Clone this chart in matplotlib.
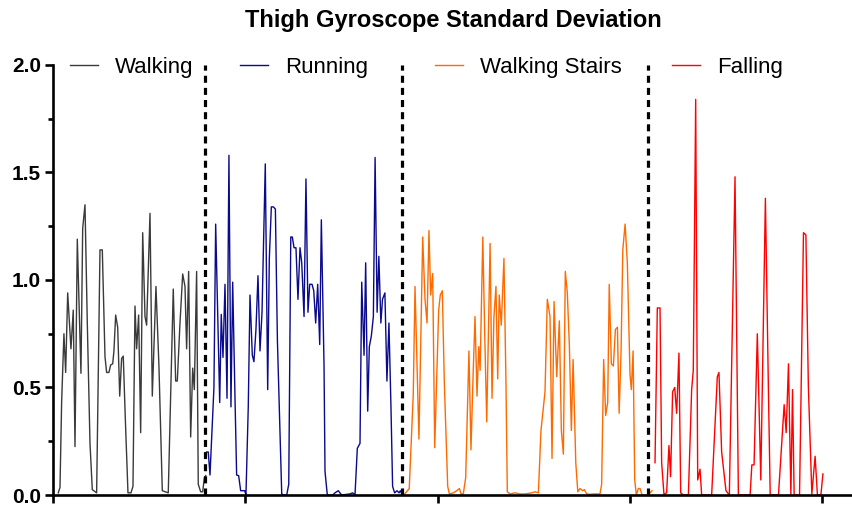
import matplotlib.pyplot as plt
from matplotlib.ticker import MultipleLocator

plt.rcParams['font.family'] = ['Liberation Sans', 'DejaVu Sans']

# values (x = sample index, y = std)
walking_x = [5.5, 7.3, 9, 11.4, 13.2, 15.3, 18.7, 21.1, 22.9, 25.3, 29.1, 30.9, 33.3, 35.7, 38.5, 40.9,
             45.4, 48.9, 51.3, 54.1, 55.8, 58.2, 60, 62.1, 63.4, 65.2, 67.3, 69.4, 71.4, 73.1, 75.2, 78,
             81.1, 83.2, 85.3, 87, 89.1, 91.2, 93.3, 95.7, 97.4, 100.9, 103.3, 107.1, 110.2, 113.7, 119.9,
             125.1, 127.6, 129.3, 132.1, 134.9, 137.3, 139, 141.1, 143.2, 145.3, 147, 149.4, 151.1, 153.6,
             155.7, 157.4, 158.8]
walking_y = [0.01, 0.035, 0.43, 0.75, 0.57, 0.94, 0.68, 0.86, 0.225, 1.19, 0.566, 1.24, 1.35, 0.80, 0.24, 0.025,
             0.01, 1.14, 1.14, 0.643, 0.57, 0.57, 0.605, 0.61, 0.67, 0.837, 0.78, 0.46, 0.635, 0.646, 0.36, 0.01,
             0.01, 0.04, 0.879, 0.68, 0.837, 0.29, 1.22, 0.83, 0.79, 1.31, 0.46, 0.97, 0.6, 0.02, 0.01,
             0.958, 0.53, 0.53, 0.8, 1.028, 0.97, 0.68, 1.04, 0.27, 0.59, 0.49, 1.04, 0.05, 0.015,
             0.015, 0.08, 0.09]

running_x = [159.8, 161.5, 163.3, 167.4, 169.2, 173.4, 175, 176.8, 178.9, 181, 183, 185.1, 186.9, 189.3, 191,
             193.1, 195.2, 199.4, 200.7, 203.1, 204.9, 207.3, 209, 211.1, 213.2, 215.3, 217.4, 220.8, 223.3,
             225, 227.1, 229.2, 231.3, 233.4, 237.9, 239.6, 243.1, 245.2, 247.3, 248.9, 250.7, 252.7, 254.8,
             256.9, 258.7, 261.1, 263.1, 265.2, 267, 269.4, 271.2, 273.2, 275.3, 277.4, 279.1, 281.9, 282.9,
             285.3, 288.1, 290.9, 293.3, 296.7, 300.2, 308.9, 311.7, 314.1, 316.5, 319.3, 321.1, 323.5, 325.2,
             327.3, 329, 331.1, 333.2, 335, 337.1, 338.9, 341, 342.7, 345.2, 347.3, 349.4, 351.5, 353.2,
             355.3, 357.8, 359.9, 361.3, 363.4]
running_y = [0.20, 0.20, 0.093, 0.50, 1.26, 0.43, 0.84, 0.64, 0.98, 0.45, 1.58, 0.41, 0.99, 0.45, 0.093,
             0.09, 0.02, 0.02, 0.0, 0.41, 0.93, 0.65, 0.62, 0.77, 1.02, 0.67, 0.85, 1.54, 0.49,
             1.1, 1.34, 1.34, 1.33, 0.72, 0.005, 0.0, 0.0, 0.05, 1.20, 1.20, 1.15, 1.15, 0.91,
             1.15, 1.08, 0.83, 1.47, 0.85, 0.98, 0.98, 0.95, 0.80, 0.98, 0.70, 1.28, 0.6, 0.11,
             0.0, 0.0, 0.0, 0.01, 0.02, 0.0, 0.005, 0.01, 0.0, 0.217, 0.24, 0.99, 0.65, 1.08,
             0.39, 0.69, 0.74, 0.83, 1.57, 0.85, 1.11, 0.80, 0.91, 0.94, 0.53, 0.80, 0.41, 0.04,
             0.01, 0.02, 0.01, 0.02, 0.0]

stairs_x = [365, 370.5, 374.7, 376.5, 380.6, 384.5, 386.9, 389, 391, 392.8, 394.9, 397, 401.1, 402.8, 404.9,
            407, 410.5, 412.3, 416.4, 419.9, 422.7, 424.4, 426.7, 429.2, 432.6, 434.7, 436.8, 438.9, 441,
            442.8, 444.2, 447, 449, 451.1, 454.6, 456.6, 458.6, 460.7, 462.5, 464.1, 466.2, 469, 471.1,
            472.5, 475.3, 480.5, 485.7, 490.9, 497.9, 501.3, 504.8, 507.5, 511.7, 514.1, 516.9, 519, 521.1,
            523.9, 526.6, 528.7, 530.8, 532.8, 534.9, 537, 539.1, 540.9, 543.7, 545.8, 548.1, 550.9, 552.6,
            555, 558.4, 561.9, 568.9, 570.6, 572.7, 574.8, 576.9, 578.5, 580.7, 582.8, 584.9, 587, 588.8,
            590.8, 592.6, 595, 597.3, 600.1, 601.5, 603.3, 605, 606.7, 608.8, 610.6, 612.6, 618.8, 623]
stairs_y = [0.0, 0.03, 0.47, 0.97, 0.26, 1.20, 0.91, 0.80, 1.23, 0.93, 1.03, 0.22, 0.86, 0.93, 0.95,
            0.52, 0.04, 0.005, 0.01, 0.02, 0.03, 0.005, 0.005, 0.08, 0.67, 0.21, 0.54, 0.83, 0.46,
            0.69, 0.58, 1.20, 0.75, 0.34, 1.17, 0.45, 0.83, 0.97, 0.54, 0.93, 0.79, 1.10, 0.52,
            0.015, 0.005, 0.01, 0.005, 0.005, 0.01, 0.015, 0.01, 0.30, 0.48, 0.91, 0.83, 0.17, 0.90,
            0.55, 0.81, 0.30, 0.19, 1.04, 0.94, 0.70, 0.30, 0.63, 0.15, 0.015, 0.03, 0.02, 0.025,
            0.005, 0.003, 0.005, 0.005, 0.05, 0.63, 0.37, 0.43, 0.98, 0.61, 0.60, 0.77, 0.78, 0.38,
            0.67, 1.14, 1.26, 1.08, 0.56, 0.49, 0.67, 0.07, 0.0, 0.03, 0.03, 0.0, 0.0, 0.02]

falling_x = [626.1, 628.5, 631.3, 633, 635.4, 638.2, 640.6, 642.3, 644.4, 646.6, 648.6, 651, 652.8, 655.5,
             660.8, 664.2, 665.9, 668.4, 670.5, 672.9, 674.6, 685, 690.9, 692.6, 695.4, 699.9, 703.4, 709.3,
             712.8, 725, 726.8, 729.1, 732.5, 736.1, 740.9, 744, 745.9, 754.5, 760.4, 762.5, 764.9, 767.4,
             769.1, 770.8, 776.4, 780.5, 783, 785.6, 789.2, 792.6, 795, 798.6, 800.7]
falling_y = [0.15, 0.87, 0.87, 0.15, 0.003, 0.01, 0.23, 0.085, 0.48, 0.50, 0.38, 0.66, 0.01, 0.0,
             0.0, 0.49, 0.58, 1.84, 0.07, 0.12, 0.0, 0.0, 0.55, 0.57, 0.2, 0.02, 0.0, 1.48,
             0.0, 0.0, 0.14, 0.14, 0.75, 0.07, 1.38, 0.5, 0.0, 0.0, 0.42, 0.29, 0.61, 0.0,
             0.49, 0.0, 0.0, 1.22, 1.21, 0.5, 0.005, 0.18, 0.0, 0.0, 0.098]

labels = ["Walking", "Running", "Walking Stairs", "Falling"]
colors = ["#3a3a3a", "#0a0a8c", "#ff6a00", "#ff0000"]
boundaries = [158, 363, 618.8]

fig = plt.figure(figsize=(8.53, 5.05), dpi=100)
ax = fig.add_axes([0.0621, 0.0198, 0.9379, 0.8515])

series = [(walking_x, walking_y), (running_x, running_y), (stairs_x, stairs_y), (falling_x, falling_y)]
lines = []
for (xs, ys), c in zip(series, colors):
    ln, = ax.plot(xs, ys, color=c, lw=1.0, clip_on=False)
    lines.append(ln)

for b in boundaries:
    ax.axvline(b, color="black", lw=2.3, ls=(0, (2.2, 1.6)), zorder=3)

ax.set_xlim(0, 832)
ax.set_ylim(0, 2.0)
ax.set_xticks([0, 200, 400, 600, 800])
ax.set_xticklabels([])
ax.set_yticks([0.0, 0.5, 1.0, 1.5, 2.0])
ax.set_yticklabels(["0.0", "0.5", "1.0", "1.5", "2.0"], fontsize=15, fontweight="bold")
ax.yaxis.set_minor_locator(MultipleLocator(0.25))
ax.tick_params(axis="both", which="major", length=6, width=1.9, direction="out")
ax.tick_params(axis="y", which="minor", length=3.5, width=1.9)
ax.tick_params(axis="y", pad=2.5)

for s in ["top", "right"]:
    ax.spines[s].set_visible(False)
for s in ["left", "bottom"]:
    ax.spines[s].set_linewidth(1.9)

ax.set_title("Thigh Gyroscope Standard Deviation", fontsize=17, fontweight="bold", pad=27)

leg_pos = [0.021, 0.234, 0.4775, 0.774]
for i, (ln, lab, xp) in enumerate(zip(lines, labels, leg_pos)):
    leg = ax.legend([ln], [lab], loc="center left", bbox_to_anchor=(xp, 0.994), frameon=False,
                    fontsize=16, handlelength=1.26, handletextpad=0.77, borderpad=0, borderaxespad=0)
    if i < len(lines) - 1:
        ax.add_artist(leg)

fig.savefig("out.png", dpi=100)
